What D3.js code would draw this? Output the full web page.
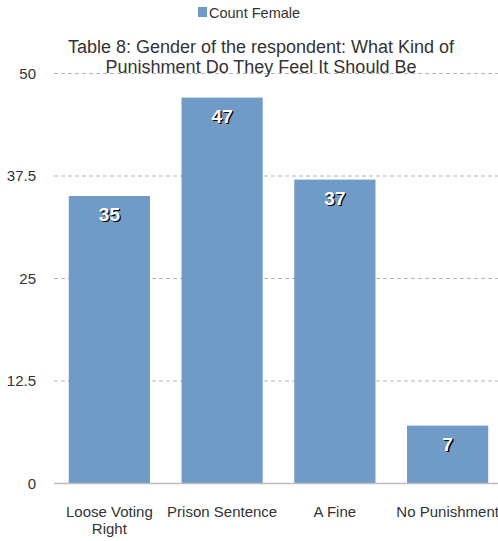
<!DOCTYPE html>
<html><head><meta charset="utf-8">
<script src="https://cdn.jsdelivr.net/npm/d3@7"></script>
<style>body{margin:0;background:#fff}svg{display:block;font-family:"Liberation Sans",Arial,sans-serif}</style>
</head><body><svg id="c" width="498" height="541"></svg>
<script>
const categories = ["Loose Voting Right","Prison Sentence","A Fine","No Punishment"];
const categoryLines = [["Loose Voting","Right"],["Prison Sentence"],["A Fine"],["No Punishment"]];
const values = [35,47,37,7];
const yTicks = [0,12.5,25,37.5,50];
const seriesName = "Count Female";
const titleLines = ["Table 8: Gender of the respondent: What Kind of","Punishment Do They Feel It Should Be"];

const svg = d3.select("#c");
const color = "#6f9bc6";
const x = d3.scaleBand().domain(categories).range([53, 504]).paddingInner(0.28).paddingOuter(0.14);
const y = d3.scaleLinear().domain([0,50]).range([483, 73]);

// gridlines
svg.append("g").selectAll("line").data(yTicks.filter(d=>d>0)).join("line")
  .attr("x1",54).attr("x2",498).attr("y1",d=>y(d)+0.5).attr("y2",d=>y(d)+0.5)
  .attr("stroke","#b3b3b3").attr("stroke-dasharray","4,3").attr("stroke-width",1);

// y labels
svg.append("g").selectAll("text").data(yTicks).join("text")
  .attr("x",36).attr("y",d=>y(d)+5.5).attr("text-anchor","end")
  .attr("font-size",15).attr("fill","#333").text(d=>d);

// bars
svg.append("g").selectAll("rect").data(values).join("rect")
  .attr("x",(d,i)=>x(categories[i])).attr("width",x.bandwidth())
  .attr("y",d=>y(d)).attr("height",d=>y(0)-y(d)).attr("fill",color);

// baseline
svg.append("line").attr("x1",54).attr("x2",498).attr("y1",y(0)+0.5).attr("y2",y(0)+0.5)
  .attr("stroke","#bdbdbd").attr("stroke-width",1.5);

// value labels
const lab = svg.append("g").selectAll("g").data(values).join("g")
  .attr("transform",(d,i)=>`translate(${x(categories[i])+x.bandwidth()/2},${y(d)+25})`);
lab.append("text").attr("x",1.3).attr("y",1.3).attr("text-anchor","middle").attr("font-size",19).attr("font-weight","bold").attr("fill","#000").text(d=>d);
lab.append("text").attr("text-anchor","middle").attr("font-size",19).attr("font-weight","bold").attr("fill","#fff").text(d=>d);

// category labels
const cl = svg.append("g").selectAll("text").data(categories).join("text")
  .attr("text-anchor","middle").attr("font-size",15).attr("fill","#333")
  .attr("transform",(d)=>`translate(${x(d)+x.bandwidth()/2},517)`);
cl.selectAll("tspan").data((d,i)=>categoryLines[i]).join("tspan")
  .attr("x",0).attr("dy",(d,j)=>j===0?0:17).text(d=>d);

// title
svg.append("text").attr("text-anchor","middle").attr("font-size",18).attr("fill","#333")
  .selectAll("tspan").data(titleLines).join("tspan")
  .attr("x",261).attr("y",(d,i)=>53+i*20).text(d=>d);

// legend
svg.append("rect").attr("x",198).attr("y",7).attr("width",9).attr("height",10).attr("fill",color);
svg.append("text").attr("x",209).attr("y",18).attr("font-size",14.5).attr("fill","#333").text(seriesName);
</script></body></html>
